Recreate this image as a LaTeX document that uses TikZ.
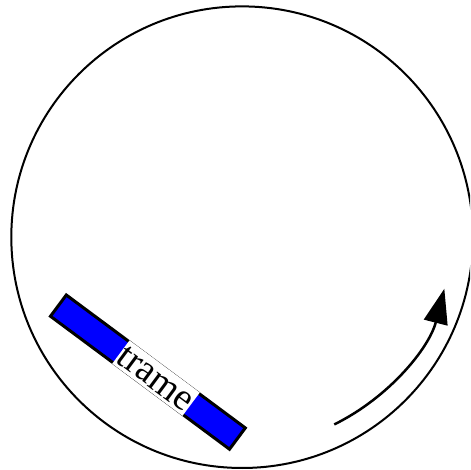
\documentclass[tikz,border=0pt]{standalone}
\usepackage{fontspec}
\setmainfont{Liberation Serif}
\usetikzlibrary{arrows.meta}
\tikzset{
  ring/.style={draw=black, line width=2pt},
  framebar/.style={draw=black, fill=blue, line width=3pt, minimum width=223pt, minimum height=26.5pt, inner sep=0pt, rotate=-36.6},
  framelabel/.style={fill=white, inner xsep=0.5pt, inner ysep=0pt, minimum height=29pt, text height=24pt, text depth=2pt, rotate=-36.6, font=\fontsize{38}{44}\selectfont},
  turn/.style={line width=2.5pt, -{Triangle[length=35pt,width=24pt]}}
}
\begin{document}
\begin{tikzpicture}
\useasboundingbox (0,0) rectangle (470pt,470pt);
\coordinate (c) at (242.1pt,232.8pt);
\begin{scope}
\clip (0,0) rectangle (470pt,470pt);
\node[ring, circle, minimum size=461.6pt, inner sep=0pt] (ringnode) at (c) {};
\end{scope}
\node[framebar] (bar) at (147.9pt,97.9pt) {};
\node[framelabel] (lbl) at (156pt,91.9pt) {trame};
\coordinate (arcstart) at ([shift={(-63.8:208.7pt)}]c);
\draw[turn] (arcstart) arc[start angle=-63.8, end angle=-14.3, radius=208.7pt];
\end{tikzpicture}
\end{document}
